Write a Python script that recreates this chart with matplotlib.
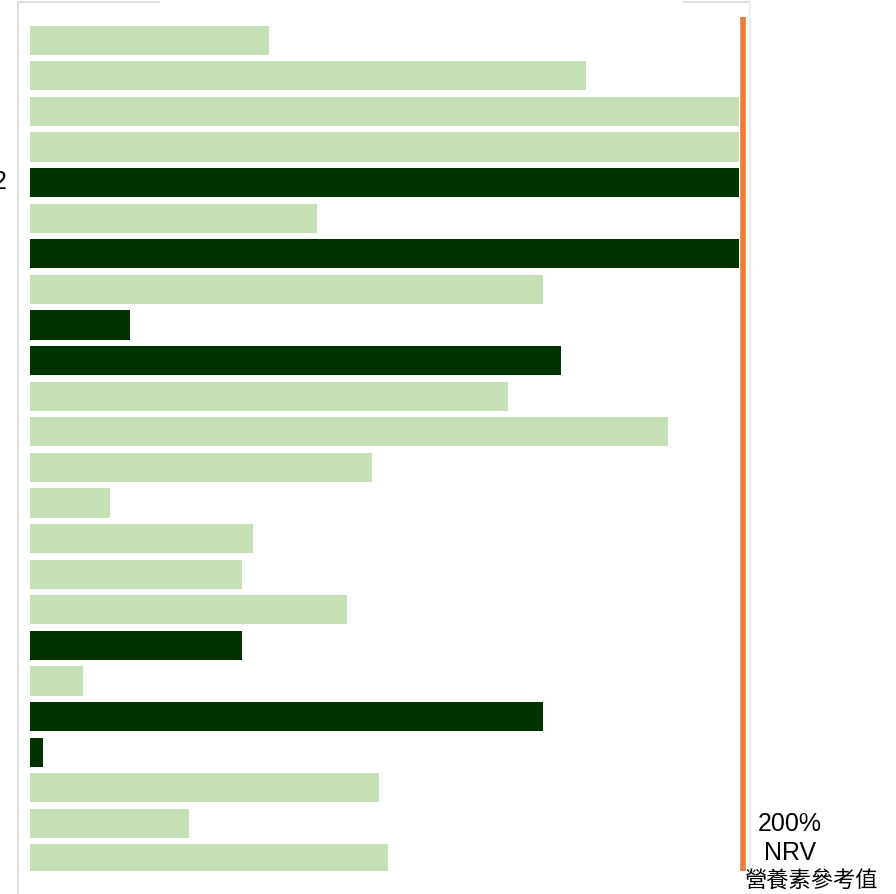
import matplotlib
matplotlib.use('Agg')
import matplotlib.pyplot as plt
from matplotlib.lines import Line2D

# % NRV per item, top to bottom (bars past 200% are clipped at the reference line)
PERCENT_NRV = [67, 156, 199, 199, 199, 80.5, 199, 144, 28, 149, 134, 179,
               96, 22.5, 62.5, 59.5, 89, 59.5, 15, 144, 3.6, 98, 44.5, 100.5]
HIGHLIGHT = [0, 0, 0, 0, 1, 0, 1, 0, 1, 1, 0, 0,
             0, 0, 0, 0, 0, 1, 0, 1, 1, 0, 0, 0]
REF_VALUE = 200
REF_LABEL = ['200%', 'NRV', '營養素參考值']

LIGHT = '#c5e0b4'
DARK = '#003300'
ORANGE = '#ed7d31'

W, H = 896, 894
fig = plt.figure(figsize=(W / 100, H / 100), dpi=100)
ax = fig.add_axes([30 / W, 23 / H, 713 / W, 854 / H])

ypos = list(range(len(PERCENT_NRV)))
colors = [DARK if h else LIGHT for h in HIGHLIGHT]
ax.barh(ypos, PERCENT_NRV, height=0.82, color=colors, linewidth=0)
ax.axvline(REF_VALUE, color=ORANGE, linewidth=4, clip_on=False, solid_capstyle='butt')

ax.set_xlim(0, REF_VALUE)
ax.set_ylim(23.34, -0.65)
ax.axis('off')

# light gray frame of the cropped screenshot
gray = '#dddddd'
fig.add_artist(Line2D([18 / W, 18 / W], [0, 1 - 2 / H], transform=fig.transFigure, color=gray, lw=1.2))
fig.add_artist(Line2D([18 / W, 159 / W], [1 - 2 / H, 1 - 2 / H], transform=fig.transFigure, color=gray, lw=1.5))
fig.add_artist(Line2D([684 / W, 750 / W], [1 - 2 / H, 1 - 2 / H], transform=fig.transFigure, color=gray, lw=1.5))
fig.add_artist(Line2D([750 / W, 750 / W], [0, 1 - 2 / H], transform=fig.transFigure, color='#eeeeee', lw=1.5))

# tick label cut off at the left edge, as in the screenshot
fig.text(7 / W, 1 - 182 / H, '2', ha='right', va='center', fontsize=18, family='Liberation Sans')

fig.text(790 / W, 1 - 824 / H, REF_LABEL[0], ha='center', va='center', fontsize=18, family='Liberation Sans')
fig.text(790 / W, 1 - 853 / H, REF_LABEL[1], ha='center', va='center', fontsize=18, family='Liberation Sans')
fig.text(812 / W, 1 - 881 / H, REF_LABEL[2], ha='center', va='center', fontsize=16,
         family=['Noto Sans CJK TC', 'DejaVu Sans'])

fig.savefig('out.png', dpi=100)
